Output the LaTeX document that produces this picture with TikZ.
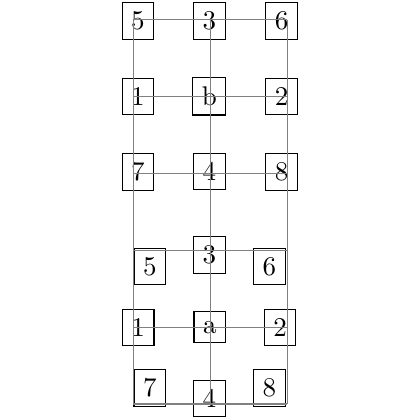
\documentclass[tikz,border=0pt]{standalone}
\usepackage{tikz}
\usetikzlibrary{positioning}

\begin{document}
\begin{tikzpicture}[cell/.style={draw, black, rectangle}, mesh/.style={gray, thin}]
    \useasboundingbox (-1.733, -0.208) rectangle (3.728, 5.254);
    % Grid points
    \coordinate (g00) at (0, 0);
    \coordinate (g10) at (1, 0);
    \coordinate (g20) at (2, 0);
    \coordinate (g01) at (0, 1);
    \coordinate (g21) at (2, 1);
    \coordinate (g02) at (0, 2);
    \coordinate (g22) at (2, 2);
    \coordinate (g03) at (0, 3);
    \coordinate (g23) at (2, 3);
    \coordinate (g04) at (0, 4);
    \coordinate (g24) at (2, 4);
    \coordinate (g05) at (0, 5);
    \coordinate (g15) at (1, 5);
    \coordinate (g25) at (2, 5);
    % Upper block
    \node[cell] (u5) at (0.06, 4.98) {5};
    \node[cell] (u3) at (0.99, 4.98) {3};
    \node[cell] (u6) at (1.93, 4.98) {6};
    \node[cell] (u1) at (0.06, 4.00) {1};
    \node[cell] (ub) at (0.99, 4.00) {b};
    \node[cell] (u2) at (1.93, 4.00) {2};
    \node[cell] (u7) at (0.06, 3.02) {7};
    \node[cell] (u4) at (0.99, 3.02) {4};
    \node[cell] (u8) at (1.93, 3.02) {8};
    % Lower block
    \node[cell] (l3) at (0.99, 1.94) {3};
    \node[cell] (l5) at (0.215, 1.79) {5};
    \node[cell] (l6) at (1.77, 1.79) {6};
    \node[cell] (l1) at (0.065, 1.00) {1};
    \node[cell] (la) at (0.995, 1.00) {a};
    \node[cell] (l2) at (1.91, 1.00) {2};
    \node[cell] (l7) at (0.215, 0.21) {7};
    \node[cell] (l4) at (0.99, 0.068) {4};
    \node[cell] (l8) at (1.77, 0.21) {8};
    % Mesh lines
    \draw[mesh] (g05) -- (g25);
    \draw[mesh] (g04) -- (g24);
    \draw[mesh] (g03) -- (g23);
    \draw[mesh] (g02) -- (g22);
    \draw[mesh] (g01) -- (g21);
    \draw[mesh] (g00) -- (g20);
    \draw[mesh] (g05) -- (g00);
    \draw[mesh] (g15) -- (g10);
    \draw[mesh] (g25) -- (g20);
\end{tikzpicture}
\end{document}
